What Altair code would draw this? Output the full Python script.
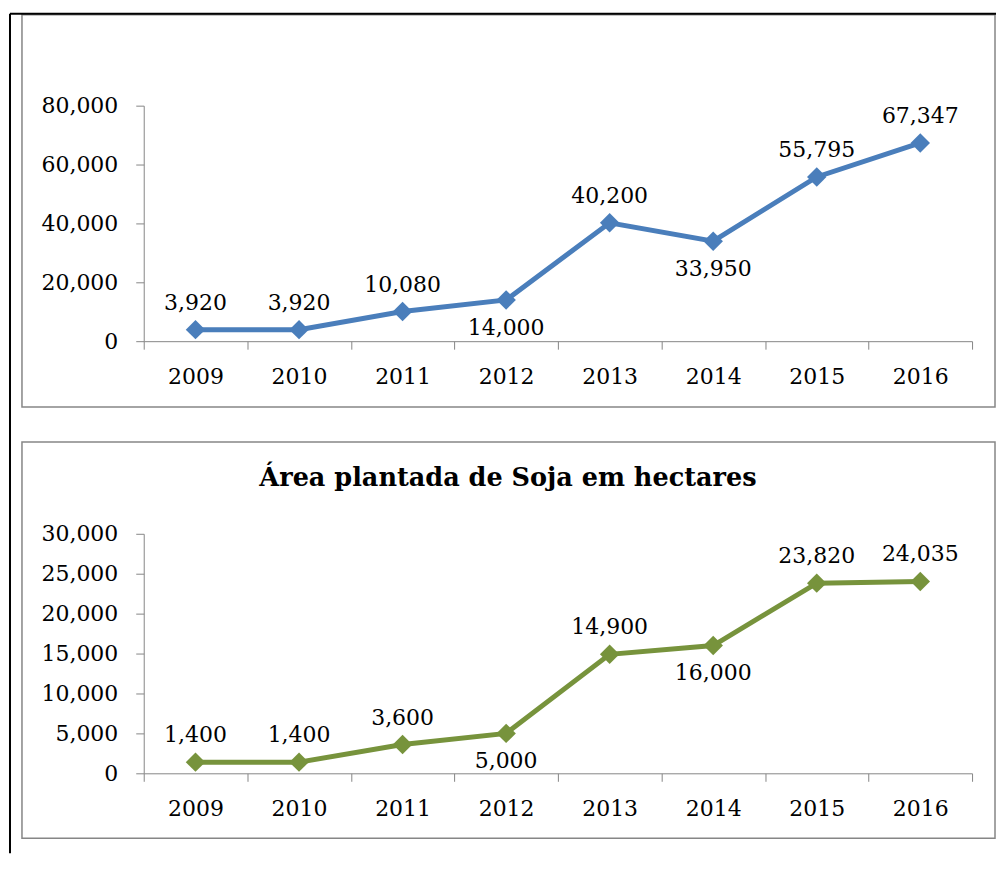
import altair as alt
import pandas as pd

# ---- data ----
anos = ["2009", "2010", "2011", "2012", "2013", "2014", "2015", "2016"]

area_top = [3920, 3920, 10080, 14000, 40200, 33950, 55795, 67347]
pos_top = ["above", "above", "above", "below", "above", "below", "above", "above"]
ticks_top = [0, 20000, 40000, 60000, 80000]

area_soja = [1400, 1400, 3600, 5000, 14900, 16000, 23820, 24035]
pos_soja = ["above", "above", "above", "below", "above", "below", "above", "above"]
ticks_soja = [0, 5000, 10000, 15000, 20000, 25000, 30000]
titulo_soja = "Área plantada de Soja em hectares"

# ---- styling ----
FONT = "DejaVu Serif"
GREY = "#868686"
BLUE = "#4A7EBB"
GREEN = "#77933C"
W = 830
H_TOP = 236
H_BOT = 240
SPACING = 193

one = pd.DataFrame({"k": [0]})


def frame_layers():
    # grey chart boxes and the black document borders (pixel positions relative to the top plot)
    box_top = alt.Chart(one).mark_rect(fill="transparent", stroke=GREY, strokeWidth=1.5).encode(
        x=alt.value(-122), x2=alt.value(853), y=alt.value(-91), y2=alt.value(302))
    box_bot = alt.Chart(one).mark_rect(fill="transparent", stroke=GREY, strokeWidth=1.5).encode(
        x=alt.value(-122), x2=alt.value(853), y=alt.value(337), y2=alt.value(734))
    vline = alt.Chart(one).mark_rule(color="black", strokeWidth=2).encode(
        x=alt.value(-134), y=alt.value(-92), y2=alt.value(749))
    hline = alt.Chart(one).mark_rule(color="black", strokeWidth=2).encode(
        x=alt.value(-134), x2=alt.value(854), y=alt.value(-92))
    return [box_top, box_bot, vline, hline]


def panel(values, pos, ticks, color, height, extra=(), title=None):
    df = pd.DataFrame({"ano": anos, "valor": values, "pos": pos})
    x = alt.X("ano:N", sort=anos,
              scale=alt.Scale(type="band", paddingInner=0, paddingOuter=0),
              axis=alt.Axis(title=None, labelAngle=0, tickBand="extent", tickSize=8,
                            labelPadding=17))
    y = alt.Y("valor:Q", scale=alt.Scale(domain=[0, ticks[-1]], nice=False, zero=True),
              axis=alt.Axis(title=None, values=ticks, format=",.0f", tickSize=8, labelPadding=18))
    base = alt.Chart(df).encode(x=x, y=y)
    line = base.mark_line(color=color, strokeWidth=5)
    pts = base.mark_point(shape="diamond", filled=True, size=380, color=color, opacity=1)
    above = base.transform_filter(alt.datum.pos == "above").mark_text(
        font=FONT, fontSize=22, dy=-27, baseline="middle", color="black").encode(
        text=alt.Text("valor:Q", format=",.0f"))
    below = base.transform_filter(alt.datum.pos == "below").mark_text(
        font=FONT, fontSize=22, dy=28, baseline="middle", color="black").encode(
        text=alt.Text("valor:Q", format=",.0f"))
    ch = alt.layer(*(list(extra) + [line, pts, above, below])).properties(width=W, height=height)
    if title is not None:
        ch = ch.properties(title=title)
    return ch


top = panel(area_top, pos_top, ticks_top, BLUE, H_TOP, extra=frame_layers())
bottom = panel(area_soja, pos_soja, ticks_soja, GREEN, H_BOT,
               title=alt.TitleParams(text=titulo_soja, font=FONT, fontSize=25.6, fontWeight="bold",
                                     color="black", anchor="middle", frame="group", dx=-50,
                                     offset=31))

chart = alt.vconcat(top, bottom, spacing=SPACING, bounds="flush").properties(
    padding={"left": 0, "top": 3, "right": 0, "bottom": 0},
    background="white",
).configure_view(stroke="transparent").configure_axis(
    domainColor=GREY, tickColor=GREY, domainWidth=1, tickWidth=1, grid=False,
    labelFont=FONT, labelFontSize=22, labelColor="black",
)

chart.save("out.html", embed_options={"renderer": "svg", "actions": False})
